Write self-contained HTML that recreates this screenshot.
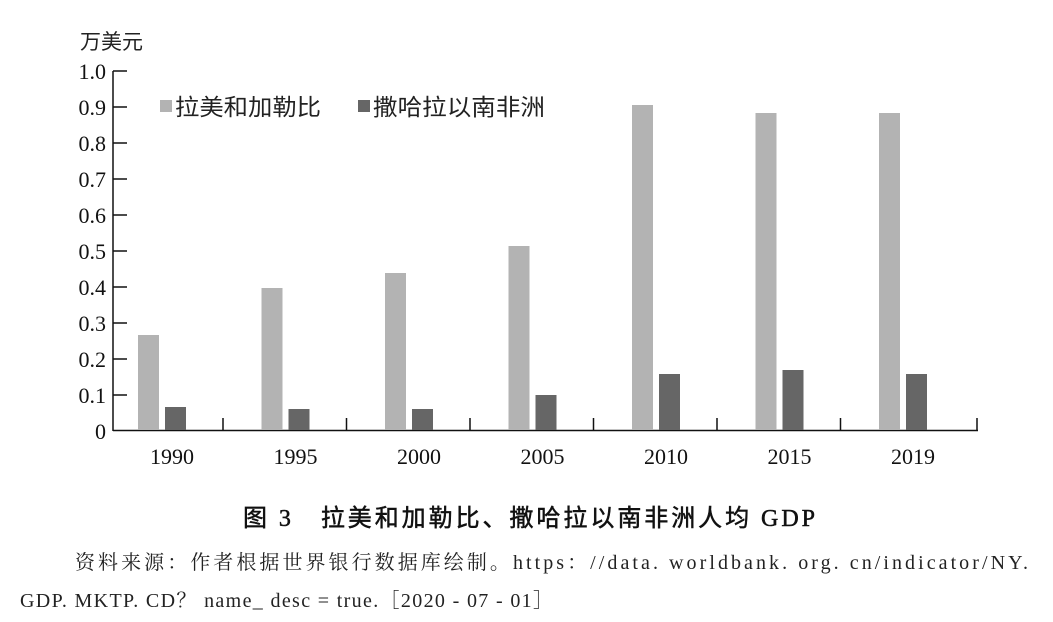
<!DOCTYPE html>
<html><head><meta charset="utf-8"><style>
body{margin:0;background:#fff;width:1053px;height:617px;overflow:hidden}
</style></head><body>
<svg width="1053" height="617" xmlns="http://www.w3.org/2000/svg" style="font-family:'Liberation Serif','Noto Serif CJK SC',serif">
<text x="80" y="49" font-size="21" font-family="'Liberation Sans','Noto Sans CJK SC',sans-serif" fill="#222">万美元</text>
<g font-size="22" fill="#111" text-anchor="end">
<text x="106" y="79">1.0</text><text x="106" y="115">0.9</text><text x="106" y="151">0.8</text><text x="106" y="187">0.7</text><text x="106" y="223">0.6</text><text x="106" y="259">0.5</text><text x="106" y="295">0.4</text><text x="106" y="331">0.3</text><text x="106" y="367">0.2</text><text x="106" y="403">0.1</text><text x="106" y="439">0</text>
</g>
<g stroke="#111" stroke-width="1.5">
<line x1="113" y1="71" x2="113" y2="431"/>
<line x1="113" y1="430.5" x2="978" y2="430.5"/>
<line x1="113" y1="71" x2="127" y2="71"/><line x1="113" y1="107" x2="127" y2="107"/><line x1="113" y1="143" x2="127" y2="143"/><line x1="113" y1="179" x2="127" y2="179"/><line x1="113" y1="215" x2="127" y2="215"/><line x1="113" y1="251" x2="127" y2="251"/><line x1="113" y1="287" x2="127" y2="287"/><line x1="113" y1="323" x2="127" y2="323"/><line x1="113" y1="359" x2="127" y2="359"/><line x1="113" y1="395" x2="127" y2="395"/>
<line x1="223" y1="418" x2="223" y2="430"/><line x1="346.5" y1="418" x2="346.5" y2="430"/><line x1="470" y1="418" x2="470" y2="430"/><line x1="593.5" y1="418" x2="593.5" y2="430"/><line x1="717" y1="418" x2="717" y2="430"/><line x1="840.5" y1="418" x2="840.5" y2="430"/><line x1="977" y1="418" x2="977" y2="430"/>
</g>
<g fill="#b3b3b3">
<rect x="138" y="335" width="21" height="95"/>
<rect x="261.5" y="288" width="21" height="142"/>
<rect x="385" y="273" width="21" height="157"/>
<rect x="508.5" y="246" width="21" height="184"/>
<rect x="632" y="105" width="21" height="325"/>
<rect x="755.5" y="113" width="21" height="317"/>
<rect x="879" y="113" width="21" height="317"/>
<rect x="160" y="100" width="12" height="12"/>
</g>
<g fill="#666">
<rect x="165" y="407" width="21" height="23"/>
<rect x="288.5" y="409" width="21" height="21"/>
<rect x="412" y="409" width="21" height="21"/>
<rect x="535.5" y="395" width="21" height="35"/>
<rect x="659" y="374" width="21" height="56"/>
<rect x="782.5" y="370" width="21" height="60"/>
<rect x="906" y="374" width="21" height="56"/>
<rect x="358" y="100" width="12" height="12"/>
</g>
<g font-size="23" fill="#222" font-family="'Liberation Sans','Noto Sans CJK SC',sans-serif">
<text x="175" y="115" textLength="146" lengthAdjust="spacingAndGlyphs">拉美和加勒比</text>
<text x="373" y="115" textLength="172" lengthAdjust="spacingAndGlyphs">撒哈拉以南非洲</text>
</g>
<g font-size="22" fill="#111" text-anchor="middle">
<text x="172" y="464">1990</text><text x="295.5" y="464">1995</text><text x="419" y="464">2000</text><text x="542.5" y="464">2005</text><text x="666" y="464">2010</text><text x="789.5" y="464">2015</text><text x="913" y="464">2019</text>
</g>
<text x="243" y="526" font-size="24" fill="#111" stroke="#111" stroke-width="0.5" font-family="'Liberation Serif','Noto Sans CJK SC',serif" textLength="572" lengthAdjust="spacing">图 3　拉美和加勒比、撒哈拉以南非洲人均 GDP</text>
<text x="75" y="569" font-size="20" fill="#222" textLength="953" lengthAdjust="spacing">资料来源：作者根据世界银行数据库绘制。https：//data. worldbank. org. cn/indicator/NY.</text>
<text x="20" y="607" font-size="20" fill="#222" textLength="533" lengthAdjust="spacing">GDP. MKTP. CD？ name_ desc = true.［2020 - 07 - 01］</text>
</svg>
</body></html>
